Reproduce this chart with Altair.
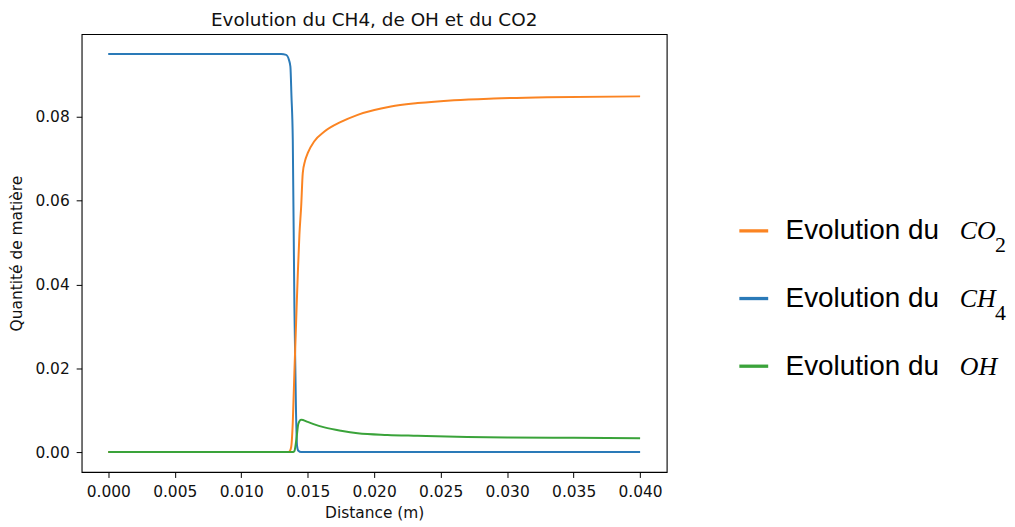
import altair as alt
import pandas as pd

# ---- data ----
ch4_x = [0.0, 0.0100, 0.0130, 0.01338, 0.01360, 0.01370, 0.01378, 0.01388, 0.01400,
         0.01412, 0.01420, 0.01430, 0.01450, 0.0200, 0.0400]
ch4_y = [0.0950, 0.0950, 0.0950, 0.0948, 0.0935, 0.0920, 0.0850, 0.0745, 0.0348,
         0.0100, 0.0015, 0.0003, 0.0, 0.0, 0.0]

co2_x = [0.0, 0.0135, 0.01365, 0.01376, 0.01388, 0.01400, 0.01413, 0.01426, 0.01438,
         0.01451, 0.01463, 0.01480, 0.01501, 0.01550, 0.01626, 0.01750, 0.01876,
         0.02126, 0.02327, 0.0260, 0.0290, 0.0330, 0.0400]
co2_y = [0.0, 0.0, 0.0002, 0.0012, 0.0071, 0.0190, 0.0310, 0.0428, 0.0520,
         0.0586, 0.0666, 0.0695, 0.0714, 0.0742, 0.0765, 0.0788, 0.0805,
         0.0825, 0.0833, 0.0840, 0.0844, 0.0847, 0.0849]

oh_x = [0.0, 0.0139, 0.0140, 0.01415, 0.01430, 0.01451, 0.0150, 0.0155, 0.01626,
        0.0175, 0.01876, 0.0210, 0.02327, 0.0270, 0.0300, 0.0350, 0.0400]
oh_y = [0.0, 0.0, 0.0002, 0.0030, 0.0068, 0.0077, 0.0072, 0.0066, 0.0059,
        0.0051, 0.0045, 0.0041, 0.0039, 0.0036, 0.0035, 0.0034, 0.0033]

series_names = ["CH4", "CO2", "OH"]
line_colors = ["#2a7ab8", "#fb8422", "#3aa33a"]

x_ticks = [0.0, 0.005, 0.010, 0.015, 0.020, 0.025, 0.030, 0.035, 0.040]
y_ticks = [0.00, 0.02, 0.04, 0.06, 0.08]

legend_keys = ["CO2", "CH4", "OH"]
legend_prefix = ["Evolution du", "Evolution du", "Evolution du"]
legend_formula = ["CO", "CH", "OH"]
legend_sub = ["2", "4", ""]
legend_colors = ["#e69138", "#1155cc", "#6aa84f"]

title_text = "Evolution du CH4, de OH et du CO2"

# ---- build table ----
rows = []
for name, xs, ys in [("CH4", ch4_x, ch4_y), ("CO2", co2_x, co2_y), ("OH", oh_x, oh_y)]:
    for i, (a, b) in enumerate(zip(xs, ys)):
        rows.append({"series": name, "x": a, "y": b, "order": i})
df = pd.DataFrame(rows)

FONT = "DejaVu Sans"

main = alt.Chart(df).mark_line(strokeWidth=2, interpolate="monotone").encode(
    x=alt.X("x:Q",
            scale=alt.Scale(domain=[-0.002, 0.042], nice=False, zero=False),
            axis=alt.Axis(values=x_ticks, format=".3f", title="Distance (m)",
                          grid=False, domain=False, tickColor="black", tickSize=5.5,
                          tickWidth=1, labelPadding=7, labelFontSize=15.5,
                          labelColor="#111", titleFontSize=15.5, titleFontWeight="normal",
                          titleColor="#111", titlePadding=6, labelFont=FONT, titleFont=FONT)),
    y=alt.Y("y:Q",
            scale=alt.Scale(domain=[-0.00475, 0.09975], nice=False, zero=False),
            axis=alt.Axis(values=y_ticks, format=".2f", title="Quantité de matière",
                          grid=False, domain=False, tickColor="black", tickSize=5.5,
                          tickWidth=1, labelPadding=7, labelFontSize=15.5,
                          labelColor="#111", titleFontSize=15.5, titleFontWeight="normal",
                          titleColor="#111", titlePadding=10, labelFont=FONT, titleFont=FONT)),
    color=alt.Color("series:N", scale=alt.Scale(domain=series_names, range=line_colors),
                    legend=None),
    order="order:Q",
).properties(
    width=588, height=440,
    title=alt.TitleParams(title_text, fontSize=18.5, font=FONT, fontWeight="normal",
                          color="#111", anchor="middle", offset=5),
    view=alt.ViewBackground(stroke="black", strokeWidth=1.1),
)

leg_df = pd.DataFrame({
    "key": legend_keys,
    "row": list(range(len(legend_keys))),
    "prefix": legend_prefix,
    "formula": legend_formula,
    "sub": legend_sub,
})

leg_base = alt.Chart(leg_df).encode(
    y=alt.Y("row:Q", scale=alt.Scale(domain=[0, 2], range=[197.7, 333.7]), axis=None),
)
leg_color = alt.Color("key:N", scale=alt.Scale(domain=legend_keys, range=legend_colors),
                      legend=None)

leg_line = leg_base.mark_rule(strokeWidth=3.3).encode(
    x=alt.value(71), x2=alt.value(100), color=leg_color)
leg_prefix = leg_base.mark_text(align="left", baseline="alphabetic", dy=8.5,
                                font="Liberation Sans", fontSize=28, color="black").encode(
    x=alt.value(117.5), text="prefix:N")
leg_formula = leg_base.mark_text(align="left", baseline="alphabetic", dy=8.5,
                                 font="Liberation Serif", fontStyle="italic", fontSize=26,
                                 color="black").encode(
    x=alt.value(292.5), text="formula:N")
leg_sub = leg_base.mark_text(align="left", baseline="alphabetic", dy=21.7,
                             font="Liberation Serif", fontSize=22, color="black").encode(
    x=alt.value(328), text="sub:N")

legend_panel = alt.layer(leg_line, leg_prefix, leg_formula, leg_sub).properties(
    width=330, height=440,
    view=alt.ViewBackground(stroke="transparent"),
)

chart = alt.hconcat(main, legend_panel, spacing=0).properties(
    padding={"left": 1, "top": 0, "right": 0, "bottom": 0},
    background="white",
)

chart.save("out.html", embed_options={"renderer": "svg", "actions": False})
